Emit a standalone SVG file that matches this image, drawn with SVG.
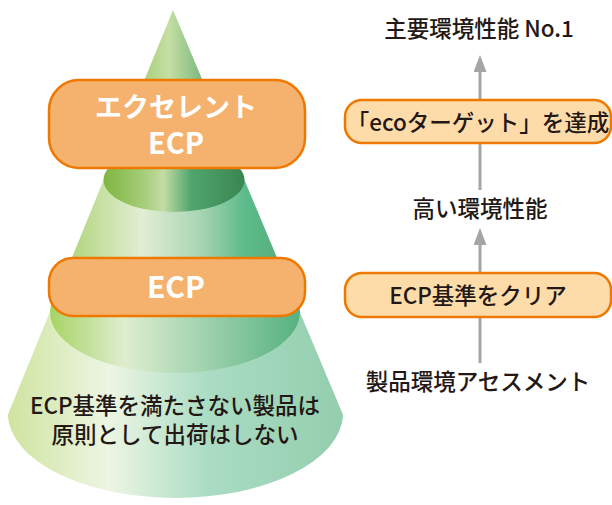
<svg xmlns="http://www.w3.org/2000/svg" width="612" height="505" viewBox="0 0 612 505">
  <defs>
    <!-- horizontal shading of the cone layers -->
    <linearGradient id="gTop" gradientUnits="userSpaceOnUse" x1="110" y1="0" x2="240" y2="0">
      <stop offset="0" stop-color="#7fba4c"/>
      <stop offset="0.45" stop-color="#c6dfa3"/>
      <stop offset="0.75" stop-color="#6fb27a"/>
      <stop offset="1" stop-color="#3f9a58"/>
    </linearGradient>
    <linearGradient id="gMidBody" gradientUnits="userSpaceOnUse" x1="58" y1="0" x2="291" y2="0">
      <stop offset="0" stop-color="#a9d16d"/>
      <stop offset="0.36" stop-color="#e2eed4"/>
      <stop offset="0.62" stop-color="#a6d4b2"/>
      <stop offset="0.8" stop-color="#5cbb8a"/>
      <stop offset="1" stop-color="#56aa78"/>
    </linearGradient>
    <linearGradient id="gMidFace" gradientUnits="userSpaceOnUse" x1="104" y1="0" x2="245" y2="0">
      <stop offset="0" stop-color="#7fb640"/>
      <stop offset="0.3" stop-color="#a8cf7e"/>
      <stop offset="0.42" stop-color="#c3dca4"/>
      <stop offset="0.62" stop-color="#4fa56e"/>
      <stop offset="1" stop-color="#3a8550"/>
    </linearGradient>
    <linearGradient id="gLowBody" gradientUnits="userSpaceOnUse" x1="8" y1="0" x2="343" y2="0">
      <stop offset="0" stop-color="#cfe4a0"/>
      <stop offset="0.3" stop-color="#edf5e3"/>
      <stop offset="0.6" stop-color="#aadcc3"/>
      <stop offset="1" stop-color="#93ceae"/>
    </linearGradient>
    <linearGradient id="gLowFace" gradientUnits="userSpaceOnUse" x1="50" y1="0" x2="300" y2="0">
      <stop offset="0" stop-color="#a7d465"/>
      <stop offset="0.3" stop-color="#dfedcf"/>
      <stop offset="0.62" stop-color="#9fd2ae"/>
      <stop offset="1" stop-color="#56b180"/>
    </linearGradient>
    <marker id="arrowHead" markerUnits="userSpaceOnUse" markerWidth="17" markerHeight="13" refX="0" refY="6.5" orient="auto" viewBox="0 0 17 13">
      <path d="M0,0 L17,6.5 L0,13 Z" fill="#a5a5a5"/>
    </marker>
  </defs>
  <style>
    .lvl { fill: #f5b26e; stroke: #ee7800; stroke-width: 2.5; }
    .step { fill: #fddcaa; stroke: #ee7800; stroke-width: 2.5; }
    .lvlText { font-family: "Noto Sans CJK JP", "Noto Sans", sans-serif; font-weight: 700; fill: #ffffff; text-anchor: middle; }
    .txt { font-family: "Noto Sans CJK JP", "Noto Sans", sans-serif; font-size: 22.5px; font-weight: 500; fill: #231815; text-anchor: middle; }
    .conn { stroke: #a5a5a5; stroke-width: 3; fill: none; }
  </style>

  <rect width="612" height="505" fill="#ffffff"/>

  <!-- layered cone -->
  <g id="cone">
    <g id="layer-bottom">
      <path d="M49.8,312 L7.8,415 A167.7,85 0 0 0 343.1,415 L299.8,312 Z" fill="url(#gLowBody)"/>
      <ellipse cx="175" cy="312" rx="125" ry="61" fill="url(#gLowFace)"/>
      <text class="txt" x="175" y="414" font-size="22">ECP基準を満たさない製品は</text>
      <text class="txt" x="175" y="443" font-size="22">原則として出荷はしない</text>
    </g>
    <g id="layer-middle">
      <path d="M103.6,180 L58.8,290 L290.6,290 L244.4,180 Z" fill="url(#gMidBody)"/>
      <ellipse cx="174" cy="180" rx="70.5" ry="32" fill="url(#gMidFace)"/>
    </g>
    <g id="layer-top">
      <path d="M173,10 L124,130 L223.4,130 Z" fill="url(#gTop)"/>
    </g>
  </g>

  <!-- level labels on the cone -->
  <g id="label-excellent">
    <rect class="lvl" x="49" y="80" width="256" height="88" rx="30"/>
    <text class="lvlText" x="176" y="117" font-size="27">エクセレント</text>
    <text class="lvlText" x="176" y="154" font-size="29">ECP</text>
  </g>
  <g id="label-ecp">
    <rect class="lvl" x="49" y="258" width="256" height="58" rx="24"/>
    <text class="lvlText" x="176" y="298" font-size="30">ECP</text>
  </g>

  <!-- connectors -->
  <g id="connectors">
    <line class="conn" x1="480" y1="190" x2="480" y2="72" marker-end="url(#arrowHead)"/>
    <line class="conn" x1="480" y1="363" x2="480" y2="245" marker-end="url(#arrowHead)"/>
  </g>

  <!-- steps on the right -->
  <g id="step-top">
    <text class="txt" x="479" y="37">主要環境性能 No.1</text>
  </g>
  <g id="step-eco">
    <rect class="step" x="345" y="100" width="266" height="43" rx="17"/>
    <text class="txt" x="478" y="130.5">「ecoターゲット」を達成</text>
  </g>
  <g id="step-high">
    <text class="txt" x="480" y="216.5">高い環境性能</text>
  </g>
  <g id="step-clear">
    <rect class="step" x="345" y="273" width="266" height="44" rx="17"/>
    <text class="txt" x="478" y="303.5">ECP基準をクリア</text>
  </g>
  <g id="step-assess">
    <text class="txt" x="478" y="390">製品環境アセスメント</text>
  </g>
</svg>
